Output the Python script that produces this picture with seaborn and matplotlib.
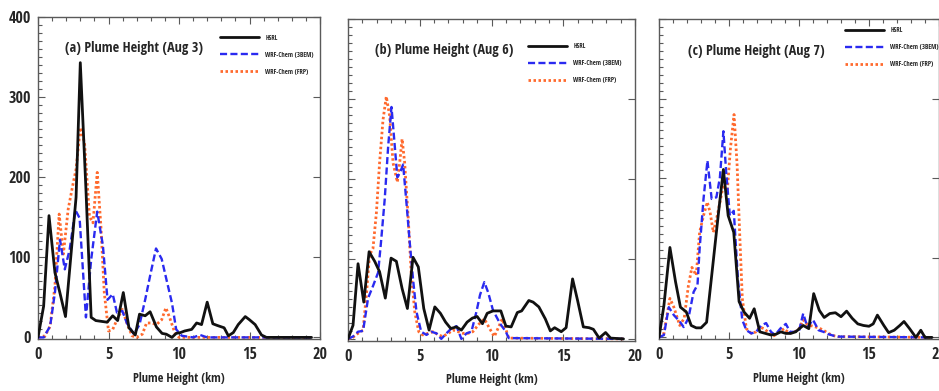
import matplotlib
matplotlib.use("Agg")
import matplotlib.pyplot as plt
from matplotlib.ticker import MultipleLocator
from matplotlib import font_manager as fm
import seaborn as sns
import pandas as pd

# ---------------- data ----------------
titles = ["(a) Plume Height (Aug 3)", "(b) Plume Height (Aug 6)", "(c) Plume Height (Aug 7)"]
series_names = ["HSRL", "WRF-Chem (3BEM)", "WRF-Chem (FRP)"]

a_hsrl_x = [0, 0.4, 0.78, 1.2, 1.55, 1.95, 2.7, 3.0, 3.4, 3.77, 4.1, 4.9, 5.3, 5.65, 6.05, 6.45, 6.9, 7.2,
            7.6, 7.95, 8.4, 8.8, 9.1, 9.5, 9.8, 10.1, 10.4, 10.9, 11.25, 11.6, 12.0, 12.4, 12.7, 13.2,
            13.5, 13.85, 14.2, 14.7, 15.0, 15.4, 15.85, 16.2, 19.4]
a_hsrl_y = [0, 39, 152, 81, 56, 26, 175, 343, 185, 25, 21, 19, 27, 21, 56, 12, 3, 29,
            27, 32, 13, 5, 4, 0, 5, 6, 8, 10, 18, 16, 44, 17, 15, 12,
            2, 6, 16, 26, 22, 16, 3, 0, 0]
a_3bem_x = [0, 0.4, 0.86, 1.2, 1.56, 1.9, 2.25, 2.65, 2.95, 3.4, 3.77, 4.2, 4.6, 4.93, 5.3, 5.6, 5.98,
            6.3, 6.8, 7.2, 7.6, 8.0, 8.37, 8.77, 9.1, 9.5, 9.8, 10.2, 11.0, 11.5, 12.0, 19.4]
a_3bem_y = [0, 0, 14, 56, 122, 85, 110, 159, 149, 25, 97, 157, 115, 47, 54, 31, 33,
            18, 4, 16, 47, 81, 111, 98, 73, 43, 10, 2, 0, 3, 0, 0]
a_frp_x = [0, 0.5, 0.86, 1.2, 1.5, 1.8, 2.14, 2.5, 2.7, 3.0, 3.3, 3.65, 3.9, 4.2, 4.46, 4.7, 5.0, 5.3,
           5.6, 5.98, 6.3, 6.67, 7.0, 7.4, 7.7, 8.07, 8.4, 8.77, 9.07, 9.35, 9.7, 10.0, 19.4]
a_frp_y = [0, 2, 14, 64, 154, 104, 160, 193, 210, 262, 243, 151, 143, 206, 139, 56, 8, 10,
           22, 35, 18, 2, 0, 4, 18, 18, 16, 22, 37, 24, 6, 0, 0]

b_hsrl_x = [0, 0.35, 0.7, 1.1, 1.47, 1.86, 2.2, 2.6, 3.0, 3.37, 3.77, 4.14, 4.53, 4.9, 5.28, 5.65, 6.05,
            6.44, 6.8, 7.16, 7.56, 7.9, 8.3, 8.67, 9.0, 9.37, 9.7, 10.1, 10.65, 11.0, 11.37, 11.8, 12.1,
            12.6, 12.9, 13.3, 13.75, 14.1, 14.4, 14.86, 15.2, 15.65, 16.0, 16.4, 16.8, 17.1, 17.5, 17.95,
            18.3, 19.2]
b_hsrl_y = [0, 17, 94, 46, 109, 97, 84, 51, 101, 97, 63, 38, 102, 90, 38, 11, 40,
            32, 21, 13, 15, 11, 21, 26, 28, 19, 32, 35, 35, 16, 15, 33, 35,
            48, 46, 40, 25, 10, 14, 9, 14, 75, 48, 15, 14, 12, 1, 8,
            1, 0]
b_3bem_x = [0, 0.35, 0.7, 1.05, 1.4, 1.74, 2.1, 2.3, 2.56, 2.8, 3.03, 3.26, 3.44, 3.67, 3.84, 4.07, 4.3,
            4.53, 4.77, 5.1, 5.47, 5.8, 6.16, 6.5, 6.86, 7.2, 7.56, 7.9, 8.26, 8.6, 8.95, 9.2, 9.5, 9.77,
            10.1, 10.6, 11.0, 11.2, 19.2]
b_3bem_y = [0, 3, 9, 10, 51, 66, 83, 121, 175, 241, 290, 241, 202, 210, 218, 171, 121,
            75, 34, 9, 5, 9, 7, 0, 7, 13, 16, 0, 7, 9, 34, 55, 71, 58,
            36, 19, 9, 1, 0]
b_frp_x = [0, 0.35, 0.7, 1.05, 1.3, 1.5, 1.74, 1.98, 2.2, 2.44, 2.67, 2.9, 3.14, 3.44, 3.6, 3.77, 3.95,
           4.2, 4.4, 4.65, 4.93, 5.2, 5.6, 5.93, 6.3, 6.6, 7.0, 7.3, 7.67, 8.0, 8.37, 8.7, 9.1, 9.5,
           9.9, 10.2, 10.5, 10.75, 11.0, 11.2, 19.2]
b_frp_y = [0, 2, 7, 11, 59, 105, 113, 158, 220, 274, 303, 279, 220, 196, 220, 250, 220,
           150, 84, 34, 9, 5, 7, 9, 5, 3, 7, 11, 9, 7, 7, 9, 18, 25,
           12, 3, 15, 25, 12, 1, 0]

c_hsrl_x = [0, 0.35, 0.78, 1.18, 1.53, 1.95, 2.3, 2.66, 3.0, 3.4, 3.84, 4.24, 4.6, 4.94, 5.34, 5.72, 6.07,
            6.47, 6.8, 7.2, 7.6, 8.0, 8.35, 8.7, 9.06, 9.4, 9.76, 10.1, 10.3, 10.7, 11.05, 11.45, 11.8,
            12.2, 12.6, 13.0, 13.4, 13.8, 14.2, 14.6, 15.0, 15.3, 15.6, 16.06, 16.4, 16.8, 17.2, 17.5,
            17.9, 18.35, 18.7, 19.0, 19.5]
c_hsrl_y = [0, 40, 113, 70, 38, 32, 15, 12, 12, 19, 90, 155, 211, 153, 132, 45, 32,
            24, 36, 7, 5, 3, 4, 7, 5, 5, 7, 12, 15, 11, 55, 34, 25,
            30, 31, 26, 33, 24, 17, 15, 14, 17, 28, 15, 6, 9, 15, 20,
            11, 0, 9, 0, 0]
c_3bem_x = [0, 0.35, 0.7, 1.06, 1.48, 1.76, 2.1, 2.47, 2.75, 2.9, 3.18, 3.46, 3.76, 4.1, 4.35, 4.6, 4.8,
            5.06, 5.34, 5.65, 5.95, 6.24, 6.6, 6.94, 7.3, 7.65, 8.0, 8.3, 8.66, 9.06, 9.36, 9.7, 10.0,
            10.3, 10.6, 11.0, 11.4, 11.75, 12.1, 12.5, 12.8, 19.5]
c_3bem_y = [0, 3, 38, 28, 20, 13, 24, 57, 66, 111, 174, 222, 174, 176, 201, 259, 207,
            153, 159, 70, 22, 9, 5, 7, 15, 18, 7, 3, 11, 17, 7, 7, 8,
            30, 13, 22, 9, 7, 4, 2, 1, 0]
c_frp_x = [0, 0.35, 0.78, 1.06, 1.48, 1.8, 2.1, 2.35, 2.66, 2.9, 3.18, 3.45, 3.65, 3.88, 4.16, 4.4, 4.6,
           4.87, 5.1, 5.36, 5.58, 5.76, 5.95, 6.24, 6.6, 6.94, 7.2, 7.5, 7.9, 8.2, 8.6, 8.94, 9.3, 9.65,
           9.95, 10.3, 10.6, 11.0, 11.4, 11.75, 12.1, 12.5, 12.8, 19.5]
c_frp_y = [0, 5, 49, 38, 15, 24, 65, 88, 78, 132, 153, 170, 157, 132, 153, 174, 192,
           182, 237, 280, 216, 132, 49, 11, 5, 7, 13, 11, 5, 2, 7, 11, 5, 7,
           9, 22, 16, 14, 12, 9, 5, 2, 1, 0]

x_ticks = [0, 5, 10, 15, 20]
y_ticks = [0, 100, 200, 300, 400]
x_label = "Plume Height (km)"

panels = [
    (a_hsrl_x, a_hsrl_y, a_3bem_x, a_3bem_y, a_frp_x, a_frp_y),
    (b_hsrl_x, b_hsrl_y, b_3bem_x, b_3bem_y, b_frp_x, b_frp_y),
    (c_hsrl_x, c_hsrl_y, c_3bem_x, c_3bem_y, c_frp_x, c_frp_y),
]

# ---------------- fonts: prefer a narrow/condensed bold face ----------------
sns.set_style("ticks")


def pick_font():
    entries = fm.fontManager.ttflist
    prefs = ["Liberation Sans Narrow", "Arial Narrow", "Open Sans Condensed", "Roboto Condensed",
             "DejaVu Sans Condensed", "Noto Sans Condensed"]

    def is_bold(f):
        w = f.weight
        if isinstance(w, str):
            return w in ("bold", "heavy", "extra bold", "demibold", "semibold")
        return w >= 600

    def is_cond(f):
        s = str(f.stretch).lower()
        nm = (f.name + " " + f.fname).lower()
        return ("condensed" in s or "narrow" in nm or "condensed" in nm or "cond" in f.fname.lower())

    for p in prefs:
        for f in entries:
            if f.name == p and is_bold(f):
                return fm.FontProperties(fname=f.fname)
    for p in ["Liberation Sans", "DejaVu Sans", "Open Sans", "Noto Sans", "Roboto"]:
        for f in entries:
            if f.name.startswith(p) and is_cond(f) and is_bold(f) and "italic" not in f.fname.lower() \
                    and "oblique" not in f.fname.lower():
                return fm.FontProperties(fname=f.fname)
    return fm.FontProperties(family="Liberation Sans", weight="bold")


FP = pick_font()
plt.rcParams["font.family"] = ["Liberation Sans", "DejaVu Sans"]
plt.rcParams["font.weight"] = "bold"


def fit_size(text, target_px, cap):
    f = plt.figure(figsize=(4, 2), dpi=100)
    t = f.text(0.1, 0.5, text, fontproperties=FP.copy())
    t.set_fontsize(10)
    r = f.canvas.get_renderer()
    w = t.get_window_extent(r).width
    plt.close(f)
    return min(cap, 10 * target_px / w)


fs_title = fit_size(titles[0], 138, 13)
fs_tick = 11.5
fs_xlab = fit_size(x_label, 92, 11)
fs_leg = fit_size(series_names[1], 48, 6.5)


def fprop(size):
    p = FP.copy()
    p.set_size(size)
    return p


colors = ["#111111", "#2a2af0", "#ff6a2e"]
lws = [2.0, 1.7, 2.0]
dash_styles = [None, (3.0, 1.4), (0.9, 0.9)]

fig = plt.figure(figsize=(9.39, 3.91), dpi=100)
W, H = 939.0, 391.0
boxes = [(38, 17, 320, 339), (348, 19, 635, 340.5), (659, 19, 939, 339)]
title_pos = [(0.34, 0.905), (0.335, 0.905), (0.348, 0.9)]
leg_pos = [(0.645, 0.945), (0.627, 0.925), (0.664, 0.975)]
spine_col = "#5a5a5a"
leg_px = fs_leg * 100 / 72.0

for i, (box, data) in enumerate(zip(boxes, panels)):
    l, t, r, b = box
    ax = fig.add_axes([l / W, (H - b) / H, (r - l) / W, (b - t) / H])
    for k in range(3):
        df = pd.DataFrame({"x": data[2 * k], "y": data[2 * k + 1]})
        sns.lineplot(data=df, x="x", y="y", ax=ax, color=colors[k], lw=lws[k],
                     legend=False, zorder=5 - k)
    lines = ax.get_lines()
    for k in (1, 2):
        lines[k].set_dashes(dash_styles[k])
    lines[2].set_dash_capstyle("butt")

    ax.set_xlim(0, 20)
    ax.set_ylim(-2, 400)
    ax.set_xticks(x_ticks)
    ax.set_yticks(y_ticks)
    ax.xaxis.set_minor_locator(MultipleLocator(1))
    ax.yaxis.set_minor_locator(MultipleLocator(10))
    ax.tick_params(which="both", direction="in", top=True, right=True, color=spine_col, width=0.8)
    ax.tick_params(which="major", length=5, pad=6)
    ax.tick_params(which="minor", length=3)
    ax.tick_params(axis="y", which="minor", right=False)
    ax.tick_params(axis="y", which="major", pad=5)
    for lab in ax.get_xticklabels() + ax.get_yticklabels():
        lab.set_fontproperties(fprop(fs_tick))
    if i > 0:
        ax.tick_params(axis="y", labelleft=False)
    for sp in ax.spines.values():
        sp.set_color(spine_col)
        sp.set_linewidth(1.0)
    ax.set_xlabel(x_label, fontproperties=fprop(fs_xlab), labelpad=6)
    ax.set_ylabel("")
    ax.text(title_pos[i][0], title_pos[i][1], titles[i], transform=ax.transAxes,
            ha="center", va="center", fontproperties=fprop(fs_title))
    leg = ax.legend(handles=lines, labels=series_names, loc="upper left",
                    bbox_to_anchor=leg_pos[i], frameon=False, prop=fprop(fs_leg),
                    handlelength=39 / leg_px, handletextpad=6.5 / leg_px,
                    labelspacing=(17.5 - 1.15 * leg_px) / leg_px,
                    borderpad=0, borderaxespad=0)

fig.savefig("out.png", dpi=100)
